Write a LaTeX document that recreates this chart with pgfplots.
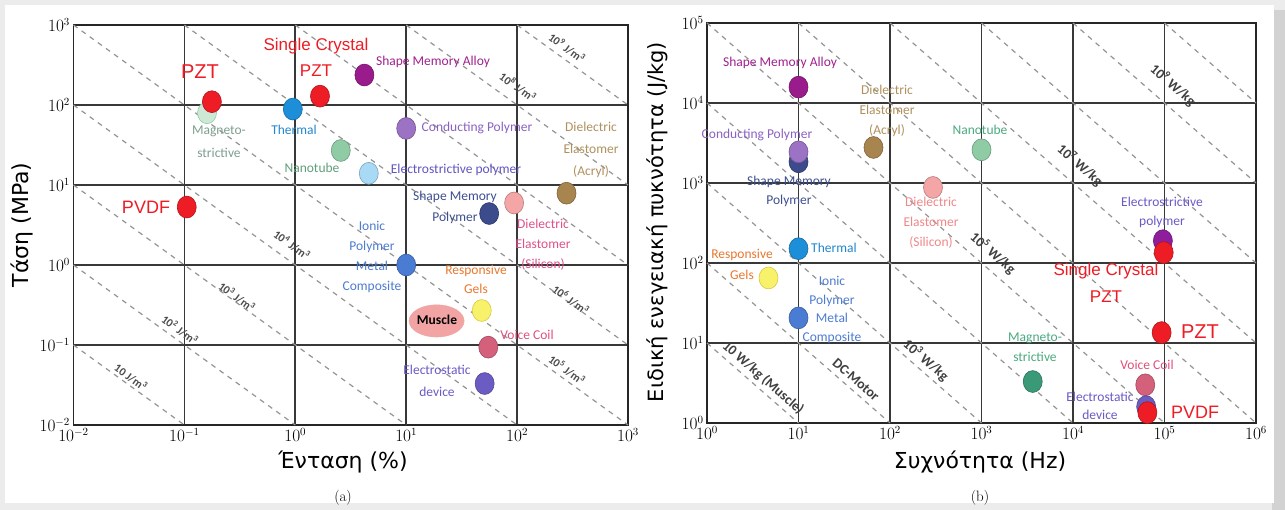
\documentclass[border=0pt]{standalone}
\usepackage{fontspec}
\usepackage{pgfplots}
\pgfplotsset{compat=1.18}
\newfontfamily\gr{DejaVu Sans}
\newfontfamily\lab{Carlito}
\newfontfamily\ar{Liberation Sans}
\definecolor{cred}{HTML}{EE1C24}
\definecolor{cmint}{HTML}{CDE9D5}
\definecolor{cthermal}{HTML}{1D8FD8}
\definecolor{csma}{HTML}{9A1B8C}
\definecolor{ccp}{HTML}{9B72C4}
\definecolor{cnano}{HTML}{8FCCA5}
\definecolor{cestr}{HTML}{A8DAF5}
\definecolor{cestrR}{HTML}{8E1E9C}
\definecolor{cacryl}{HTML}{A8844F}
\definecolor{csil}{HTML}{F4A5A5}
\definecolor{csmp}{HTML}{3B4B8C}
\definecolor{cipmc}{HTML}{4A7CD4}
\definecolor{cgel}{HTML}{F8F26A}
\definecolor{cgeld}{HTML}{D8C840}
\definecolor{cmus}{HTML}{F2A4A4}
\definecolor{cvc}{HTML}{D4607C}
\definecolor{cesd}{HTML}{6B5CC4}
\definecolor{cmagR}{HTML}{3A9A78}
% label colours
\definecolor{tmag}{HTML}{7F9F8F}
\definecolor{tthermal}{HTML}{2188D0}
\definecolor{tsma}{HTML}{A0208F}
\definecolor{tcp}{HTML}{8A62C2}
\definecolor{tnano}{HTML}{5FA07C}
\definecolor{testr}{HTML}{6055C0}
\definecolor{tacryl}{HTML}{B0915E}
\definecolor{tsmp}{HTML}{3D4F90}
\definecolor{tsil}{HTML}{E0508A}
\definecolor{tsilR}{HTML}{F08888}
\definecolor{tipmc}{HTML}{4D7CD0}
\definecolor{tgel}{HTML}{E8782E}
\definecolor{tvc}{HTML}{E0507C}
\definecolor{tesd}{HTML}{6A5AC6}
\definecolor{tmagR}{HTML}{4AAA80}

\newcommand{\bub}[4]{\addplot[only marks, forget plot, mark=*, mark size=9.5pt,
  mark options={fill=#1, draw=#2, line width=0.6pt, yscale=1.15}] coordinates {(#3,#4)};}
\newcommand{\dl}[4]{\addplot[forget plot, black!42, line width=1.2pt, dash pattern=on 5pt off 5pt] coordinates {(#1,#2) (#3,#4)};}

\tikzset{
  lb/.style={font=\lab\fontsize{13.5}{20}\selectfont, align=center, inner sep=0pt},
  rl/.style={font=\ar\fontsize{18}{26}\selectfont, text=cred, align=center, inner sep=0pt},
  dg/.style={font=\lab\bfseries\fontsize{11.5}{11.5}\selectfont, text=black!70, inner sep=0pt, rotate=-36},
  dgR/.style={font=\lab\bfseries\fontsize{14}{14}\selectfont, text=black!75, inner sep=0pt, rotate=-41},
}

\begin{document}
\begin{tikzpicture}
\fill[gray!15] (0pt,0pt) rectangle (1285pt,-510pt);
\fill[gray!35] (1272pt,-10pt) rectangle (1285pt,-510pt);
\fill[white] (5pt,-5pt) rectangle (1274pt,-503pt);

% ---------------- (a) -----------------
\begin{axis}[at={(73.5pt,-425pt)}, anchor=south west, scale only axis,
  width=554.5pt, height=400pt,
  xmode=log, ymode=log,
  xmin=1e-2, xmax=1e3, ymin=1e-2, ymax=1e3,
  xtick={1e-2,1e-1,1,1e1,1e2,1e3}, ytick={1e-2,1e-1,1,1e1,1e2,1e3},
  grid=major, major grid style={black!78, line width=1.7pt},
  axis line style={black!85, line width=1.7pt},
  major tick length=0pt, minor tick length=0pt,
  ticklabel style={font=\fontsize{16}{16}\selectfont},
  clip=false]
\dl{0.01}{0.1}{0.1}{0.01}
\dl{0.01}{1}{1}{0.01}
\dl{0.01}{10}{10}{0.01}
\dl{0.01}{100}{100}{0.01}
\dl{0.01}{1000}{1000}{0.01}
\dl{0.1}{1000}{1000}{0.1}
\dl{1}{1000}{1000}{1}
\dl{10}{1000}{1000}{10}
\dl{100}{1000}{1000}{100}
\bub{cmint}{cnano}{0.16}{80}
\bub{cred}{cred!75!black}{0.177}{110}
\bub{cthermal}{cthermal!75!black}{0.95}{89}
\bub{cred}{cred!75!black}{1.67}{129}
\bub{csma}{csma!75!black}{4.2}{237}
\bub{ccp}{ccp!75!black}{10}{51}
\bub{cnano}{cnano!75!black}{2.57}{27}
\bub{cestr}{cestr!75!black}{4.6}{14}
\bub{cacryl}{cacryl!75!black}{279}{7.9}
\bub{csil}{csil!75!black}{94}{5.96}
\bub{csmp}{csmp!75!black}{56}{4.4}
\bub{cred}{cred!75!black}{0.105}{5.3}
\bub{cipmc}{cipmc!75!black}{10}{1.0}
\bub{cgel}{cgeld}{48}{0.27}
\addplot[only marks, forget plot, mark=*, mark size=9.5pt,
  mark options={fill=cmus, draw=cmus, xscale=2.9, yscale=1.7}] coordinates {(18.8,0.2)};
\bub{cvc}{cvc!75!black}{55}{0.094}
\bub{cesd}{cesd!75!black}{51}{0.033}
\end{axis}

% ---------------- (b) -----------------
\begin{axis}[at={(707pt,-423pt)}, anchor=south west, scale only axis,
  width=549pt, height=400pt,
  xmode=log, ymode=log,
  xmin=1, xmax=1e6, ymin=1, ymax=1e5,
  xtick={1,1e1,1e2,1e3,1e4,1e5,1e6}, ytick={1,1e1,1e2,1e3,1e4,1e5},
  grid=major, major grid style={black!78, line width=1.7pt},
  axis line style={black!85, line width=1.7pt},
  major tick length=0pt, minor tick length=0pt,
  ticklabel style={font=\fontsize{16}{16}\selectfont},
  clip=false]
\dl{1}{10}{10}{1}
\dl{1}{100}{100}{1}
\dl{1}{1000}{1000}{1}
\dl{1}{1e4}{1e4}{1}
\dl{1}{1e5}{1e5}{1}
\dl{10}{1e5}{1e6}{1}
\dl{100}{1e5}{1e6}{10}
\dl{1000}{1e5}{1e6}{100}
\dl{1e4}{1e5}{1e6}{1000}
\dl{1e5}{1e5}{1e6}{1e4}
\bub{csma}{csma!75!black}{10}{15800}
\bub{cacryl}{cacryl!75!black}{66}{2780}
\bub{cnano}{cnano!75!black}{1000}{2600}
\bub{csmp}{csmp!75!black}{10}{1840}
\bub{ccp}{ccp!75!black}{10}{2450}
\bub{csil}{csil!75!black}{295}{880}
\bub{cthermal}{cthermal!75!black}{10}{151}
\bub{cestrR}{cestrR!75!black}{96000}{190}
\bub{cred}{cred!75!black}{98000}{135}
\bub{cgel}{cgeld}{4.7}{65}
\bub{cipmc}{cipmc!75!black}{10}{20.6}
\bub{cmagR}{cmagR!75!black}{3630}{3.3}
\bub{cvc}{cvc!75!black}{61600}{3.0}
\bub{cesd}{cesd!75!black}{63000}{1.6}
\bub{cred}{cred!75!black}{65000}{1.35}
\bub{cred}{cred!75!black}{93000}{13.5}
\end{axis}

% ---------- labels (a) ----------
\node[rl, font=\ar\fontsize{20}{20}\selectfont] at (200pt,-72pt) {PZT};
\node[rl, font=\ar\fontsize{17}{26}\selectfont] at (316pt,-57pt) {Single Crystal\\PZT};
\node[rl] at (146pt,-207pt) {PVDF};
\node[lb, text=tsma] at (433pt,-62pt) {Shape Memory Alloy};
\node[lb, text=tmag, font=\lab\fontsize{13.5}{23}\selectfont] at (219pt,-141.5pt) {Magneto-\\strictive};
\node[lb, text=tthermal] at (294pt,-130pt) {Thermal};
\node[lb, text=tcp] at (477pt,-128pt) {Conducting Polymer};
\node[lb, text=tnano] at (312pt,-168pt) {Nanotube};
\node[lb, text=testr] at (456pt,-170pt) {Electrostrictive polymer};
\node[lb, text=tacryl, font=\lab\fontsize{13.5}{22}\selectfont] at (591pt,-150pt) {Dielectric\\Elastomer\\(Acryl)};
\node[lb, text=tsmp, font=\lab\fontsize{13.5}{21}\selectfont] at (455pt,-207.5pt) {Shape Memory\\Polymer};
\node[lb, text=tsil] at (543pt,-244.5pt) {Dielectric\\Elastomer\\(Silicon)};
\node[lb, text=tipmc] at (372pt,-256.5pt) {Ionic\\Polymer\\Metal\\Composite};
\node[lb, text=tgel, font=\lab\fontsize{13.5}{19}\selectfont] at (476pt,-279.5pt) {Responsive\\Gels};
\node[lb, text=black, font=\lab\bfseries\fontsize{13.5}{14}\selectfont] at (437pt,-320pt) {Muscle};
\node[lb, text=tvc] at (527pt,-335pt) {Voice Coil};
\node[lb, text=tesd, font=\lab\fontsize{13.5}{22}\selectfont] at (437pt,-381pt) {Electrostatic\\device};
% energy density lines
\node[dg] at (131pt,-377pt) {10 J/m\textsuperscript{3}};
\node[dg] at (180pt,-330pt) {10\textsuperscript{2} J/m\textsuperscript{3}};
\node[dg] at (237pt,-297pt) {10\textsuperscript{3} J/m\textsuperscript{3}};
\node[dg] at (292pt,-245pt) {10\textsuperscript{4} J/m\textsuperscript{3}};
\node[dg] at (567pt,-370pt) {10\textsuperscript{5} J/m\textsuperscript{3}};
\node[dg] at (571pt,-300pt) {10\textsuperscript{6} J/m\textsuperscript{3}};
\node[dg] at (518pt,-87pt) {10\textsuperscript{8} J/m\textsuperscript{3}};
\node[dg] at (567pt,-48pt) {10\textsuperscript{9} J/m\textsuperscript{3}};

% ---------- labels (b) ----------
\node[lb, text=tsma] at (780pt,-63pt) {Shape Memory Alloy};
\node[lb, text=tacryl] at (887pt,-111pt) {Dielectric\\Elastomer\\(Acryl)};
\node[lb, text=tmagR] at (980pt,-130pt) {Nanotube};
\node[lb, text=tcp] at (757pt,-135pt) {Conducting Polymer};
\node[lb, text=tsmp, font=\lab\fontsize{13.5}{19}\selectfont] at (789pt,-191pt) {Shape Memory\\Polymer};
\node[lb, text=tsilR] at (931pt,-223pt) {Dielectric\\Elastomer\\(Silicon)};
\node[lb, text=tesd, font=\lab\fontsize{13.5}{19}\selectfont] at (1162pt,-212pt) {Electrostrictive\\polymer};
\node[lb, text=tthermal, anchor=west] at (811pt,-248pt) {Thermal};
\node[lb, text=tgel, font=\lab\fontsize{13.5}{21}\selectfont] at (742pt,-264pt) {Responsive\\Gels};
\node[lb, text=tipmc, font=\lab\fontsize{13.5}{18.7}\selectfont] at (832pt,-310pt) {Ionic\\Polymer\\Metal\\Composite};
\node[rl, font=\ar\fontsize{17}{27}\selectfont] at (1106pt,-283pt) {Single Crystal\\PZT};
\node[rl, font=\ar\fontsize{20}{20}\selectfont] at (1200pt,-332pt) {PZT};
\node[lb, text=tmagR] at (1035pt,-347pt) {Magneto-\\strictive};
\node[lb, text=tvc] at (1147pt,-365pt) {Voice Coil};
\node[lb, text=tesd, font=\lab\fontsize{13.5}{18}\selectfont] at (1100pt,-406pt) {Electrostatic\\device};
\node[rl] at (1195pt,-412pt) {PVDF};
\node[dgR] at (763pt,-378pt) {10 W/kg (Muscle)};
\node[dgR] at (856pt,-380pt) {DC-Motor};
\node[dgR] at (926pt,-360pt) {10\textsuperscript{3} W/kg};
\node[dgR] at (993pt,-253pt) {10\textsuperscript{5} W/kg};
\node[dgR] at (1080pt,-165pt) {10\textsuperscript{7} W/kg};
\node[dgR] at (1173pt,-85pt) {10\textsuperscript{9} W/kg};

% ---------- axis titles ----------
\node[font=\gr\fontsize{22}{22}\selectfont, rotate=90] at (22pt,-225pt) {Τάση (MPa)};
\node[font=\gr\fontsize{22}{22}\selectfont] at (343pt,-462pt) {Ένταση (\%)};
\node[font=\fontsize{15}{15}\selectfont] at (343pt,-498pt) {(a)};
\node[font=\gr\fontsize{21}{21}\selectfont, rotate=90] at (657pt,-222pt) {Ειδική ενεγειακή πυκνότητα (J/kg)};
\node[font=\gr\fontsize{22}{22}\selectfont] at (980pt,-462pt) {Συχνότητα (Hz)};
\node[font=\fontsize{15}{15}\selectfont] at (980pt,-498pt) {(b)};
\end{tikzpicture}
\end{document}
